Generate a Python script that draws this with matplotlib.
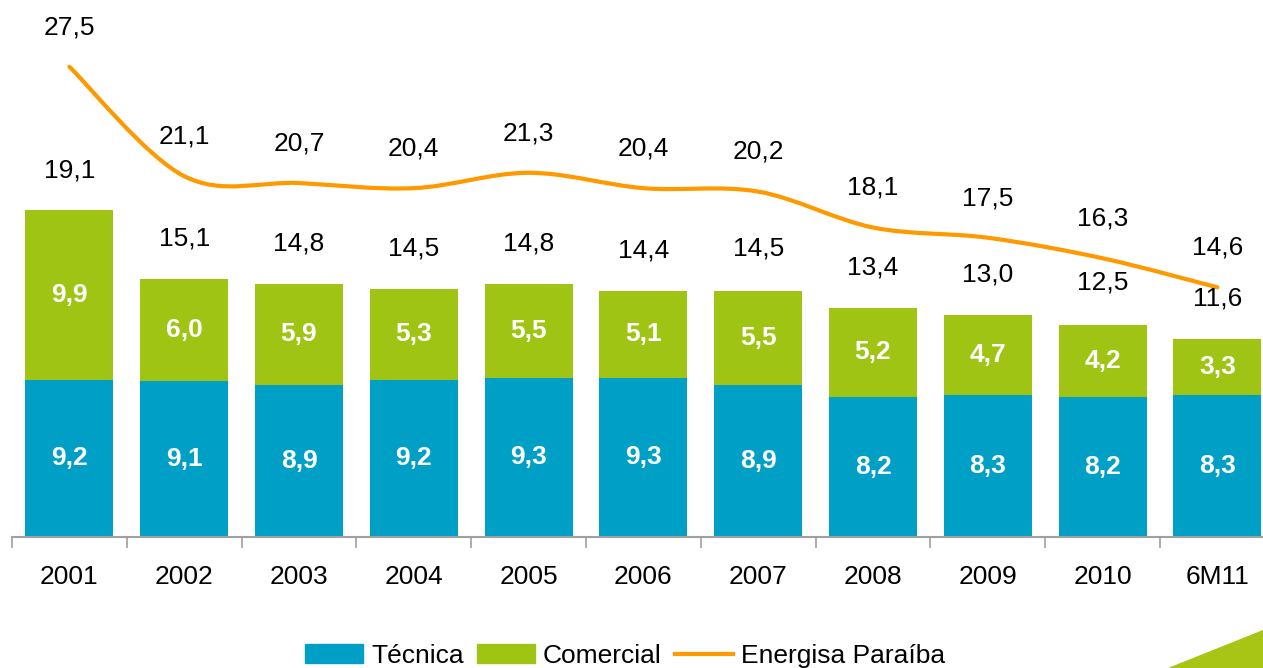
import matplotlib
matplotlib.use("Agg")
import matplotlib.pyplot as plt
import numpy as np
from matplotlib.path import Path
from matplotlib.patches import PathPatch, Patch, Polygon
from matplotlib.lines import Line2D

plt.rcParams['font.family'] = ['Liberation Sans', 'DejaVu Sans']

categories = ["2001", "2002", "2003", "2004", "2005", "2006", "2007", "2008", "2009", "2010", "6M11"]
tecnica = [9.2, 9.1, 8.9, 9.2, 9.3, 9.3, 8.9, 8.2, 8.3, 8.2, 8.3]
comercial = [9.9, 6.0, 5.9, 5.3, 5.5, 5.1, 5.5, 5.2, 4.7, 4.2, 3.3]
totais = [19.1, 15.1, 14.8, 14.5, 14.8, 14.4, 14.5, 13.4, 13.0, 12.5, 11.6]
energisa = [27.5, 21.1, 20.7, 20.4, 21.3, 20.4, 20.2, 18.1, 17.5, 16.3, 14.6]

BLUE = '#00A0C6'
GREEN = '#A0C414'
ORANGE = '#FF9900'

W, H = 1263, 668
fig = plt.figure(figsize=(W / 100, H / 100), dpi=100)
left_px, right_px = 12, 1263
base_px, top_px = 537, 7
ax = fig.add_axes([left_px / W, (H - base_px) / H, (right_px - left_px) / W, (base_px - top_px) / H])
step = 114.8

x = np.arange(len(categories))
bw = 88 / step
ax.bar(x, tecnica, width=bw, color=BLUE, zorder=2)
ax.bar(x, comercial, width=bw, bottom=tecnica, color=GREEN, zorder=2)

# smoothed line (Catmull-Rom -> Bezier)
pts = np.column_stack([x, energisa]).astype(float)
n = len(pts)
verts = [tuple(pts[0])]
codes = [Path.MOVETO]
for i in range(n - 1):
    p0 = pts[i - 1] if i > 0 else pts[i]
    p1 = pts[i]
    p2 = pts[i + 1]
    p3 = pts[i + 2] if i + 2 < n else pts[i + 1]
    c1 = p1 + (p2 - p0) / 6.0
    c2 = p2 - (p3 - p1) / 6.0
    verts += [tuple(c1), tuple(c2), tuple(p2)]
    codes += [Path.CURVE4] * 3
ax.add_patch(PathPatch(Path(verts, codes), fill=False, edgecolor=ORANGE, lw=3, zorder=3,
                       capstyle='round', joinstyle='round'))

for i in range(n):
    ax.annotate(f"{tecnica[i]:.1f}".replace('.', ','), (x[i], tecnica[i] / 2), ha='center', va='center',
                color='white', fontsize=19, fontweight='bold', zorder=4)
    ax.annotate(f"{comercial[i]:.1f}".replace('.', ','), (x[i], tecnica[i] + comercial[i] / 2),
                ha='center', va='center', color='white', fontsize=19, fontweight='bold', zorder=4)
    ax.annotate(f"{totais[i]:.1f}".replace('.', ','), (x[i], totais[i]), xytext=(0, 29),
                textcoords='offset points', ha='center', va='center', fontsize=19, color='black')
    ax.annotate(f"{energisa[i]:.1f}".replace('.', ','), (x[i], energisa[i]), xytext=(0, 28.5),
                textcoords='offset points', ha='center', va='center', fontsize=19, color='black')

for s in ['top', 'right', 'left']:
    ax.spines[s].set_visible(False)
ax.spines['bottom'].set_color('#A0A0A0')
ax.spines['bottom'].set_linewidth(1.5)
ax.set_yticks([])
ax.set_xticks(np.arange(-0.5, len(categories) - 0.5, 1.0))
ax.set_xticklabels([])
ax.tick_params(axis='x', which='major', direction='out', length=8, width=1.2, color='#A0A0A0')
ax.set_xticks(x, minor=True)
ax.set_xticklabels(categories, minor=True, fontsize=19)
ax.tick_params(axis='x', which='minor', length=0, pad=20)

ax.set_xlim(-0.5, -0.5 + (right_px - left_px) / step)
ax.set_ylim(0, (base_px - top_px) / 17.1)

handles = [Patch(color=BLUE, label='Técnica'), Patch(color=GREEN, label='Comercial'),
           Line2D([], [], color=ORANGE, lw=3, label='Energisa Paraíba')]
fig.legend(handles=handles, loc='center', bbox_to_anchor=(625 / W, (H - 656) / H), ncol=3,
           frameon=False, fontsize=19, handlelength=2.2, handleheight=0.75, handletextpad=0.3,
           columnspacing=0.5, borderpad=0)

fig.patches.append(Polygon([(1168 / W, 0), (1263 / W, 38 / H), (1, 0)], closed=True,
                           transform=fig.transFigure, facecolor='#A8C414', edgecolor='none'))

fig.savefig('out.png', dpi=100)
